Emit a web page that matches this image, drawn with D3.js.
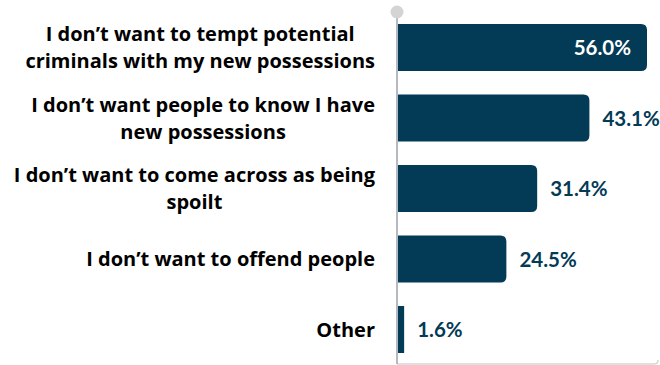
<!DOCTYPE html>
<html>
<head>
<meta charset="utf-8">
<script src="https://cdn.jsdelivr.net/npm/d3@7"></script>
<style>
  html, body { margin: 0; padding: 0; background: #fff; }
  svg { display: block; }
</style>
</head>
<body>
<svg id="chart" width="660" height="365"></svg>
<script>
// ---- data ----
const categories = [
  "I don\u2019t want to tempt potential\ncriminals with my new possessions",
  "I don\u2019t want people to know I have\nnew possessions",
  "I don\u2019t want to come across as being\nspoilt",
  "I don\u2019t want to offend people",
  "Other"
];
const values = [56.0, 43.1, 31.4, 24.5, 1.6];
const valueLabels = ["56.0%", "43.1%", "31.4%", "24.5%", "1.6%"];

// ---- layout ----
const W = 660, H = 365;
const axisX = 397;
const barColor = "#033a56";
const valueFont = "Lato, 'Open Sans', sans-serif";
const catFont = "'Open Sans', Lato, sans-serif";

const svg = d3.select("#chart");

const y = d3.scaleBand()
  .domain(d3.range(categories.length))
  .range([12.25, 364.75])
  .paddingInner(1/3)
  .paddingOuter(1/6);

const x = d3.scaleLinear()
  .domain([0, 56])
  .range([axisX, 647]);

// frame: bottom line with rounded corner fragment
svg.append("path")
  .attr("d", `M${axisX},364 H654 Q658,364 658,360`)
  .attr("fill", "none")
  .attr("stroke", "#d6d6d6")
  .attr("stroke-width", 1.5);

// bars (rounded right corners)
function barPath(x0, x1, y0, h, r) {
  r = Math.min(r, (x1 - x0));
  return `M${x0},${y0} H${x1 - r} Q${x1},${y0} ${x1},${y0 + r} V${y0 + h - r} Q${x1},${y0 + h} ${x1 - r},${y0 + h} H${x0} Z`;
}

svg.append("g").selectAll("path")
  .data(values)
  .join("path")
  .attr("d", (d, i) => {
    const x1 = x(d);
    const r = (x1 - axisX) > 20 ? 6 : 0;
    return barPath(axisX, x1, y(i), y.bandwidth(), r);
  })
  .attr("fill", barColor);

// axis (ticks hidden) + visible axis line + top dot
const yAxis = d3.axisLeft(y).tickSize(0).tickFormat("");
const axG = svg.append("g").attr("transform", `translate(${axisX},0)`).call(yAxis);
axG.select(".domain").remove();
svg.append("line")
  .attr("x1", axisX).attr("x2", axisX)
  .attr("y1", 12).attr("y2", 364)
  .attr("stroke", "#b4bac0")
  .attr("stroke-width", 2);
svg.append("circle")
  .attr("cx", axisX).attr("cy", 12).attr("r", 6.5)
  .attr("fill", "#d4d4d4");

// value labels
svg.append("g").selectAll("text")
  .data(values)
  .join("text")
  .attr("x", (d, i) => i === 0 ? x(d) - 16 : x(d) + 13)
  .attr("y", (d, i) => y(i) + y.bandwidth() / 2 + 7.5)
  .attr("text-anchor", (d, i) => i === 0 ? "end" : "start")
  .attr("font-family", valueFont)
  .attr("font-weight", "bold")
  .attr("font-size", "20.5px")
  .attr("fill", (d, i) => i === 0 ? "#ffffff" : barColor)
  .text((d, i) => valueLabels[i]);

// category labels: block right-aligned at 375, lines centered within block
const rightEdge = 375;
const lineH = 27;
const catG = svg.append("g");
categories.forEach((c, i) => {
  const lines = c.split("\n");
  const cy = y(i) + y.bandwidth() / 2;
  const texts = lines.map((ln, j) => catG.append("text")
    .attr("font-family", catFont)
    .attr("font-weight", "bold")
    .attr("font-size", "20px")
    .attr("fill", "#000")
    .attr("text-anchor", "middle")
    .attr("y", cy + 7 + (j - (lines.length - 1) / 2) * lineH)
    .text(ln));
  const maxW = d3.max(texts, t => t.node().getComputedTextLength());
  texts.forEach(t => t.attr("x", rightEdge - maxW / 2));
});
</script>
</body>
</html>
